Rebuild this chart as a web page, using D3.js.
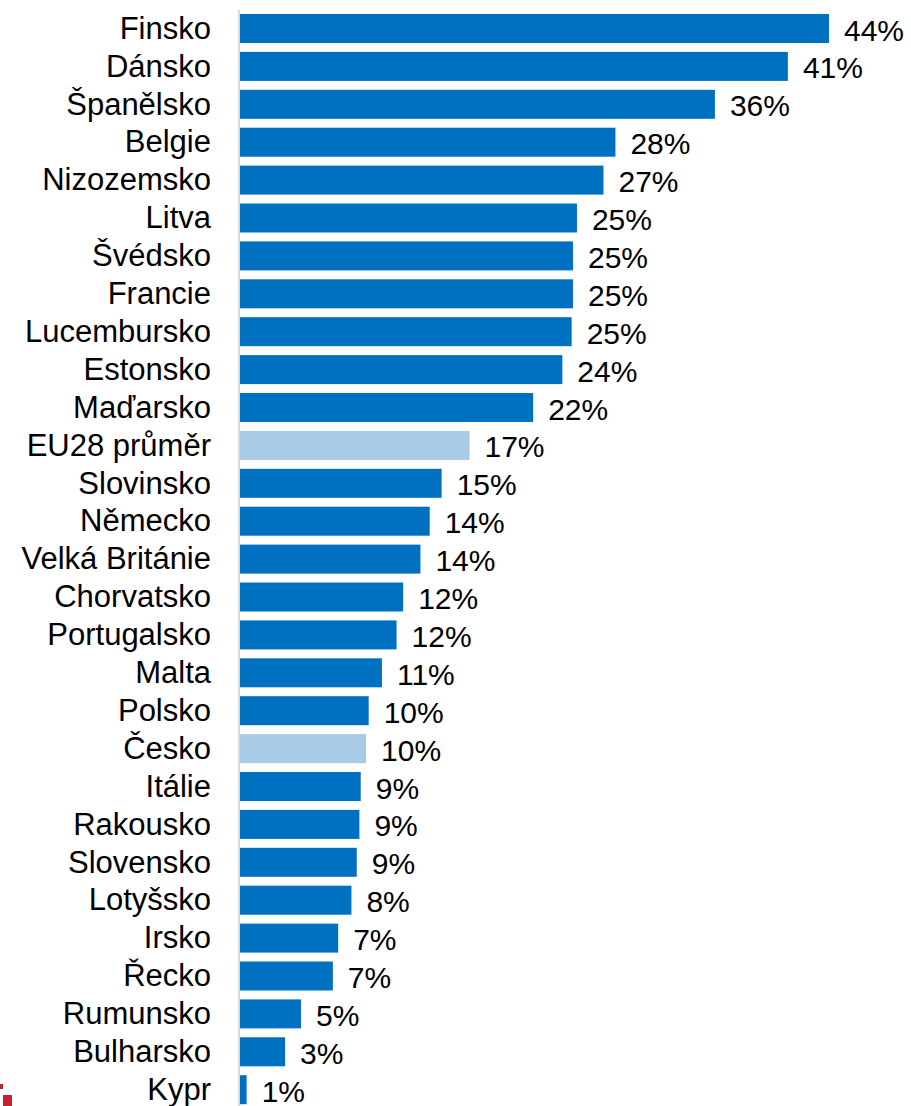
<!DOCTYPE html>
<html>
<head>
<meta charset="utf-8">
<style>
    body { margin: 0; background: #fff; }
    svg text { font-family: Arial, 'Liberation Sans', sans-serif; fill: #000; }
    .name { font-size: 31px; }
    .val { font-size: 30px; }
</style>
</head>
<body>
<svg id="chart"></svg>
<script src="https://cdn.jsdelivr.net/npm/d3@7"></script>
<script>
    const width = 911;
    const height = 1106;

    // countries top to bottom
    const countries = ["Finsko", "Dánsko", "Španělsko", "Belgie", "Nizozemsko", "Litva", "Švédsko",
        "Francie", "Lucembursko", "Estonsko", "Maďarsko", "EU28 průměr", "Slovinsko", "Německo",
        "Velká Británie", "Chorvatsko", "Portugalsko", "Malta", "Polsko", "Česko", "Itálie",
        "Rakousko", "Slovensko", "Lotyšsko", "Irsko", "Řecko", "Rumunsko", "Bulharsko", "Kypr"];

    // share in %
    const shares = [44.4, 41.3, 35.8, 28.3, 27.4, 25.4, 25.1, 25.1, 25.0, 24.3, 22.1, 17.3, 15.2, 14.3,
        13.6, 12.3, 11.8, 10.7, 9.7, 9.5, 9.1, 9.0, 8.8, 8.4, 7.4, 7.0, 4.6, 3.4, 0.5];

    // highlighted rows (lighter bar)
    const highlighted = ["EU28 průměr", "Česko"];

    const rows = countries.map((c, i) => ({ name: c, value: shares[i] }));

    const svg = d3.select('#chart').attr('width', width).attr('height', height);

    const x = d3.scaleLinear().domain([0, 44.4]).range([240, 829]);
    const y = d3.scaleBand().domain(countries).range([9.55, 1108.65])
        .paddingInner(0.235).paddingOuter(0.1175);

    svg.append('line')
        .attr('x1', 239).attr('x2', 239)
        .attr('y1', 10).attr('y2', height)
        .style('stroke', '#d9d9d9').style('stroke-width', 2);

    svg.selectAll('.bar')
        .data(rows)
        .enter().append('rect')
        .attr('class', 'bar')
        .attr('x', x(0))
        .attr('y', d => y(d.name))
        .attr('width', d => x(d.value) - x(0))
        .attr('height', y.bandwidth())
        .style('fill', d => highlighted.includes(d.name) ? '#a7cbe6' : '#0070c0');

    svg.selectAll('.name')
        .data(rows)
        .enter().append('text')
        .attr('class', 'name')
        .attr('x', 211)
        .attr('y', d => y(d.name) + y.bandwidth() / 2)
        .attr('dy', '0.33em')
        .attr('text-anchor', 'end')
        .text(d => d.name);

    svg.selectAll('.val')
        .data(rows)
        .enter().append('text')
        .attr('class', 'val')
        .attr('x', d => x(d.value) + 15)
        .attr('y', d => y(d.name) + y.bandwidth() / 2 + 1.5)
        .attr('dy', '0.35em')
        .text(d => Math.round(d.value) + '%');

    // cropped red logo in the corner
    svg.append('rect').attr('x', 3).attr('y', 1095).attr('width', 9).attr('height', 11).style('fill', '#c8202f');
    svg.append('rect').attr('x', 0).attr('y', 1084).attr('width', 3).attr('height', 5).style('fill', '#c8202f');
</script>
</body>
</html>
